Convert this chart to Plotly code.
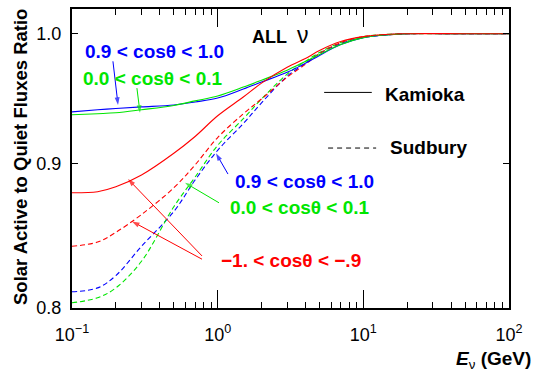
import numpy as np
import plotly.graph_objects as go

# Energies (GeV)
energy = [0.1, 0.15, 0.2, 0.3, 0.5, 0.7, 1.0, 1.5, 2.0, 3.0, 4.0, 5.0, 7.0, 10.0, 15.0, 20.0, 50.0, 100.0]

# Kamioka (solid)
kam_up = [0.9384, 0.9400, 0.9410, 0.9422, 0.9437, 0.9460, 0.9490, 0.9560, 0.9614, 0.9691, 0.9762, 0.9825, 0.9912, 0.9968, 0.9992, 1.0, 1.0, 1.0]
kam_hor = [0.9362, 0.9370, 0.9377, 0.9400, 0.9433, 0.9468, 0.9506, 0.9575, 0.9629, 0.9707, 0.9777, 0.9832, 0.9912, 0.9968, 0.9992, 1.0, 1.0, 1.0]
kam_down = [0.8786, 0.8794, 0.8829, 0.8914, 0.9073, 0.9198, 0.9354, 0.9498, 0.9606, 0.9730, 0.9800, 0.9864, 0.9936, 0.9976, 0.9996, 1.0, 1.0, 1.0]

# Sudbury (dashed)
sud_up = [0.8106, 0.8132, 0.8214, 0.8412, 0.8653, 0.8878, 0.9095, 0.9295, 0.9453, 0.9660, 0.9762, 0.9840, 0.9920, 0.9968, 0.9992, 1.0, 1.0, 1.0]
sud_hor = [0.8034, 0.8067, 0.8132, 0.8310, 0.8687, 0.8899, 0.9132, 0.9332, 0.9483, 0.9676, 0.9777, 0.9848, 0.9928, 0.9976, 0.9996, 1.0, 1.0, 1.0]
sud_down = [0.8412, 0.8441, 0.8508, 0.8632, 0.8822, 0.8988, 0.9190, 0.9369, 0.9483, 0.9652, 0.9754, 0.9840, 0.9928, 0.9976, 0.9992, 1.0, 1.0, 1.0]

BLUE = "#0000ff"
GREEN = "#00e600"
RED = "#ff0000"
DASH = "5px,3px"

fig = go.Figure()
series = [
    (sud_up, BLUE, DASH), (sud_hor, GREEN, DASH), (sud_down, RED, DASH),
    (kam_up, BLUE, "solid"), (kam_hor, GREEN, "solid"), (kam_down, RED, "solid"),
]
for vals, col, dash in series:
    fig.add_trace(go.Scatter(x=energy, y=vals, mode="lines",
                             line=dict(color=col, width=1.1, dash=dash, shape="spline", smoothing=1.0),
                             showlegend=False, hoverinfo="skip"))

# pointer arrows: (tail E, tail ratio, head E, head ratio)
arrow_tail_E = [0.191, 0.279, 1.177, 1.021, 0.781, 0.781]
arrow_tail_R = [0.9778, 0.9567, 0.8921, 0.8715, 0.8346, 0.8324]
arrow_head_E = [0.207, 0.293, 0.974, 0.597, 0.2423, 0.2582]
arrow_head_R = [0.9437, 0.9377, 0.9073, 0.8858, 0.8885, 0.8584]
arrow_col = [BLUE, GREEN, BLUE, GREEN, RED, RED]
for i in range(len(arrow_col)):
    fig.add_trace(go.Scatter(x=[arrow_tail_E[i], arrow_head_E[i]], y=[arrow_tail_R[i], arrow_head_R[i]],
                             mode="lines+markers",
                             line=dict(color=arrow_col[i], width=1),
                             marker=dict(symbol=["circle", "arrow"], size=[0, 8], angleref="previous",
                                         color=arrow_col[i], line=dict(width=0)),
                             showlegend=False, hoverinfo="skip"))

FONT = "Liberation Sans, Arial, sans-serif"
xmajor = [0.1, 1, 10, 100]
xlabels = ["10<sup>−1</sup>", "10<sup>0</sup>", "10<sup>1</sup>", "10<sup>2</sup>"]
xminor = [m * d for d in (0.1, 1, 10) for m in range(2, 10)]
ymajor = [0.8, 0.9, 1.0]
ylabels = ["0.8", "0.9", "1.0"]

fig.update_xaxes(type="log", range=[-1, 2], tickvals=xmajor, ticktext=xlabels,
                 ticks="inside", ticklen=18, tickwidth=1, tickcolor="black",
                 minor=dict(tickvals=xminor, ticks="inside", ticklen=6, tickwidth=1, tickcolor="black"),
                 showline=True, linewidth=2, linecolor="black", mirror="ticks",
                 showgrid=False, zeroline=False, ticklabelstandoff=9,
                 tickfont=dict(family=FONT, size=18, color="black"))
fig.update_yaxes(type="log", range=[np.log10(0.8), np.log10(1.0203)], tickvals=ymajor, ticktext=ylabels,
                 ticks="inside", ticklen=6, tickwidth=1, tickcolor="black",
                 showline=True, linewidth=2, linecolor="black", mirror="ticks",
                 showgrid=False, zeroline=False, ticklabelstandoff=5,
                 tickfont=dict(family=FONT, size=18, color="black"))

# long major tick at 1.0 on the left axis
fig.add_shape(type="line", xref="paper", yref="y", xsizemode="pixel", xanchor=0,
              x0=0, x1=17, y0=0, y1=0, line=dict(color="black", width=1))

# legend samples
fig.add_shape(type="line", xref="paper", yref="paper", x0=0.577, x1=0.686, y0=0.721, y1=0.721,
              line=dict(color="black", width=1))
fig.add_shape(type="line", xref="paper", yref="paper", x0=0.586, x1=0.696, y0=0.535, y1=0.535,
              line=dict(color="black", width=1, dash="5px,4px"))

def txt(x, y, text, color="black", size=19, **kw):
    fig.add_annotation(x=x, y=y, xref="paper", yref="paper", text=text, showarrow=False,
                       font=dict(family=FONT, size=size, color=color), xanchor=kw.pop("xanchor", "center"),
                       yanchor=kw.pop("yanchor", "middle"), **kw)

txt(0.808, 0.714, "<b>Kamioka</b>")
txt(0.815, 0.538, "<b>Sudbury</b>")
txt(0.477, 0.912, "<b>ALL</b>  <span style='font-size:23px'>ν</span>", size=18)
txt(0.189, 0.857, "<b>0.9 < cosθ < 1.0</b>", color=BLUE)
txt(0.186, 0.767, "<b>0.0 < cosθ < 0.1</b>", color=GREEN)
txt(0.532, 0.422, "<b>0.9 < cosθ < 1.0</b>", color=BLUE)
txt(0.522, 0.336, "<b>0.0 < cosθ < 0.1</b>", color=GREEN)
txt(0.500, 0.159, "<b>−1. < cosθ < −.9</b>", color=RED)
txt(-0.119, 0.505, "<b>Solar Active to Quiet Fluxes Ratio</b>", size=18.5, textangle=-90)
txt(1.055, -0.173, "<b><i>E</i></b><sub>ν</sub> <b>(GeV)</b>", size=19, xanchor="right")

fig.update_layout(width=539, height=379, margin=dict(l=72, r=30, t=7, b=71),
                  paper_bgcolor="white", plot_bgcolor="white", showlegend=False)

fig.write_html("out.html")
